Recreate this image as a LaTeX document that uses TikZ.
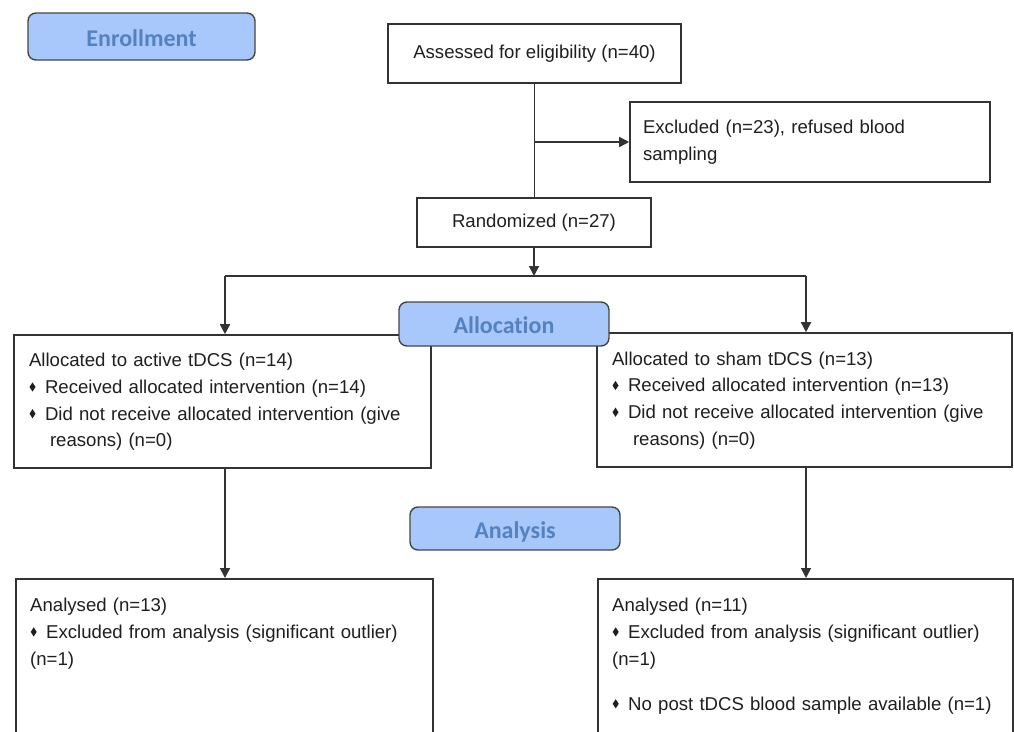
\documentclass[tikz,border=0pt]{standalone}
\usepackage{fontspec}
\setmainfont{Liberation Sans}
\newfontfamily\lblfont[Ligatures=NoCommon]{Carlito}
\usetikzlibrary{arrows.meta,calc}
\definecolor{lblfill}{RGB}{168,199,250}
\definecolor{lbltext}{RGB}{84,130,192}
\definecolor{lbldraw}{RGB}{70,70,70}
\newcommand\dmd{\hspace*{0.5pt}\tikz[baseline=-6.5pt]\fill (0pt,0pt)--(3pt,4.6pt)--(6pt,0pt)--(3pt,-4.6pt)--cycle;\hspace*{9.5pt}}
\begin{document}
\begin{tikzpicture}[x=1pt,y=-1pt,
  box/.style={draw=black!80, line width=1.6pt, fill=white, inner sep=0pt},
  txt/.style={font=\fontsize{18.6}{26.7}\selectfont, text=black!88, align=left},
  lbl/.style={draw=lbldraw, line width=1.4pt, fill=lblfill, rounded corners=8pt,
    text=lbltext, font=\lblfont\bfseries\fontsize{24}{28}\selectfont, inner sep=0pt,
    text height=19pt, text depth=0pt, minimum width=210pt},
  conn/.style={draw=black!80, line width=1.6pt},
  arr/.style={conn, -{Triangle[width=10pt,length=10pt]}}]
\useasboundingbox (0,0) rectangle (1014,731);
\clip (0,0) rectangle (1014,731);
\fill[white] (0,0) rectangle (1014,731);

% boxes
\node[box, txt, align=center, minimum width=293pt, minimum height=59pt] (assess) at (534.5,53.5)
  {\strut Assessed for eligibility (n=40)};
\node[box, txt, minimum width=360pt, minimum height=80pt, text width=334pt] (excl) at (810,142)
  {\strut Excluded (n=23), refused blood\\ sampling\strut};
\node[box, txt, align=center, minimum width=234pt, minimum height=49pt] (rand) at (534,222.5)
  {\strut Randomized (n=27)};
\node[box, txt, minimum width=417pt, minimum height=133pt, text width=387pt] (allocA) at (222.5,401.5)
  {\strut Allocated to active tDCS (n=14)\\
   \dmd Received allocated intervention (n=14)\\
   \dmd Did not receive allocated intervention (give\\
   \hspace*{21pt}reasons) (n=0)\strut};
\node[box, txt, minimum width=415pt, minimum height=134pt, text width=385pt] (allocS) at (804.5,400)
  {\strut Allocated to sham tDCS (n=13)\\
   \dmd Received allocated intervention (n=13)\\
   \dmd Did not receive allocated intervention (give\\
   \hspace*{21pt}reasons) (n=0)\strut};
\node[box, anchor=north west, minimum width=417pt, minimum height=175pt] (anA) at (15,578) {};
\node[txt, anchor=north west, inner sep=0pt, text width=387pt] (anAtxt) at ($(anA.north west)+(15,14.8)$)
  {\strut Analysed (n=13)\\
   \dmd Excluded from analysis (significant outlier)\\
   (n=1)\strut};
\node[box, anchor=north west, minimum width=415pt, minimum height=175pt] (anS) at (597,578) {};
\node[txt, anchor=north west, inner sep=0pt, text width=385pt] (anStxt) at ($(anS.north west)+(15,14.8)$)
  {\strut Analysed (n=11)\\
   \dmd Excluded from analysis (significant outlier)\\
   (n=1)\\[18.5pt]
   \dmd No post tDCS blood sample available (n=1)\strut};

% connectors
\coordinate (split) at (534,276);
\coordinate (cl) at (225,276);
\coordinate (cr) at (806,276);
\draw[conn] (assess.south) -- (assess.south |- rand.north);
\draw[arr] (assess.south |- excl.west) -- (excl.west);
\draw[arr] (rand.south) -- (split);
\draw[conn] (cl) -- (cr);
\draw[arr] (cl) -- (cl |- allocA.north);
\draw[arr] (cr) -- (cr |- allocS.north);
\draw[arr] (cl |- allocA.south) -- (cl |- anA.north);
\draw[arr] (cr |- allocS.south) -- (cr |- anS.north);

% stage labels
\node[lbl, minimum width=227pt, minimum height=47pt] (enroll) at (141.5,36.5) {Enrollment};
\node[lbl, minimum height=44pt] (allocation) at (504,324) {Allocation};
\node[lbl, minimum height=43pt] (analysis) at (515,528.5) {Analysis};
\end{tikzpicture}
\end{document}
